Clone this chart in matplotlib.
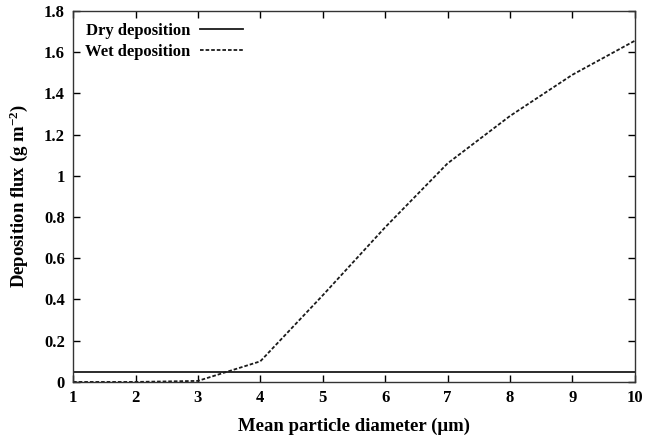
import matplotlib
matplotlib.use("Agg")
import matplotlib.pyplot as plt

diameter = [1, 2, 3, 4, 5, 6, 7, 8, 9, 10]
dry_flux = [0.05, 0.05, 0.05, 0.05, 0.05, 0.05, 0.05, 0.05, 0.05, 0.05]
wet_flux = [0.0, 0.0, 0.005, 0.10, 0.42, 0.75, 1.06, 1.29, 1.49, 1.655]
xticks = [1, 2, 3, 4, 5, 6, 7, 8, 9, 10]
yticks = [0, 0.2, 0.4, 0.6, 0.8, 1.0, 1.2, 1.4, 1.6, 1.8]
yticklabels = ["0", "0.2", "0.4", "0.6", "0.8", "1", "1.2", "1.4", "1.6", "1.8"]

plt.rcParams['font.family'] = ['Liberation Serif', 'DejaVu Serif']
plt.rcParams['font.weight'] = 'bold'
plt.rcParams['mathtext.fontset'] = 'custom'
plt.rcParams['mathtext.rm'] = 'Liberation Serif:bold'
plt.rcParams['mathtext.it'] = 'Liberation Serif:bold'
plt.rcParams['mathtext.bf'] = 'Liberation Serif:bold'
plt.rcParams['mathtext.default'] = 'rm'

fig = plt.figure(figsize=(6.47, 4.37), dpi=100)
ax = fig.add_axes([0.113, 0.126, 0.868, 0.849])

ax.plot(diameter, dry_flux, color='#1a1a1a', lw=1.3, label='Dry deposition')
ax.plot(diameter, wet_flux, color='#1a1a1a', lw=1.3, linestyle=(0, (2.0, 1.1)), label='Wet deposition')

ax.set_xlim(1, 10)
ax.set_ylim(0, 1.8)
ax.set_xticks(xticks)
ax.set_yticks(yticks)
ax.set_yticklabels(yticklabels)
ax.tick_params(direction='in', top=True, right=True, length=5, width=1, labelsize=12, pad=6)
for lab in ax.get_xticklabels() + ax.get_yticklabels():
    lab.set_fontweight('bold')
for s in ax.spines.values():
    s.set_linewidth(1.0)
    s.set_color('#333333')

ax.set_xlabel('Mean particle diameter (\u03bcm)', fontsize=13.5, fontweight='bold', labelpad=8)
ax.set_ylabel('Deposition flux (g m$^{-2}$)', fontsize=13.5, fontweight='bold', labelpad=10)

leg = ax.legend(loc='upper left', frameon=False, markerfirst=False, fontsize=12,
                handlelength=2.6, borderaxespad=0.3, labelspacing=0.3, handletextpad=0.6)
for t in leg.get_texts():
    t.set_fontweight('bold')

fig.savefig('out.png', dpi=100)
